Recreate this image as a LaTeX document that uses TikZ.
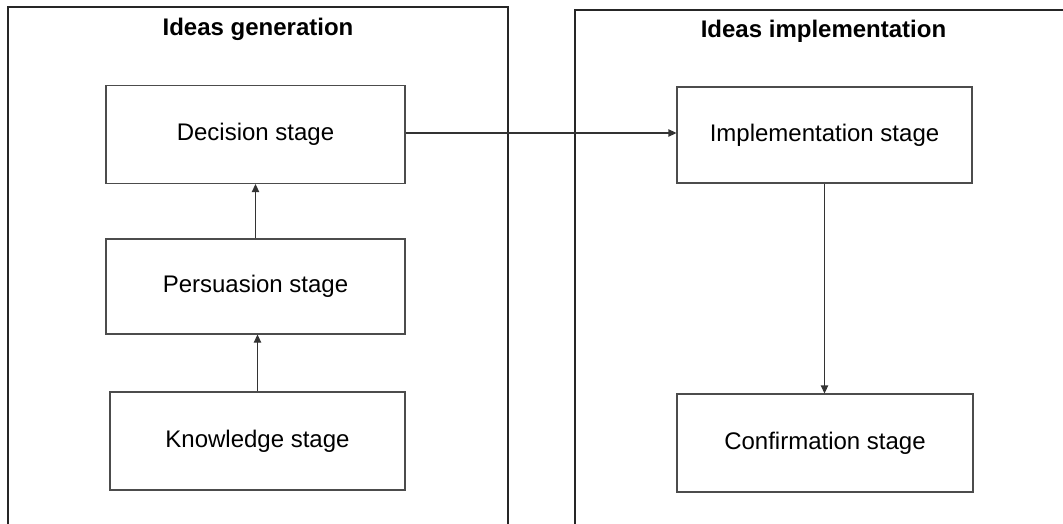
\documentclass[tikz,border=0pt]{standalone}
\usepackage{fontspec}
\setmainfont{Liberation Sans}
\usetikzlibrary{arrows.meta}
\tikzset{
  stagebox/.style={draw=black!70, line width=0.8pt, rectangle, inner sep=0pt,
    font=\fontsize{18}{21}\selectfont},
  titletext/.style={font=\bfseries\fontsize{18}{21}\selectfont, anchor=base, inner sep=0pt},
  outerline/.style={draw=black!85, line width=0.9pt},
  conn/.style={draw=black!80, line width=0.8pt, -{Triangle[length=6pt,width=5.5pt]}}
}
\begin{document}
\begin{tikzpicture}[x=0.75pt,y=-0.75pt]
\useasboundingbox (0,0) rectangle (1063,524);
\clip (0,0) rectangle (1063,524);
% outer panels (bottoms run off the picture)
\draw[outerline] (8,540) -- (8,7) -- (508,7) -- (508,540);
\draw[outerline] (575,540) -- (575,10) -- (1075,10) -- (1075,540);
% titles
\node[titletext] (t1) at (258,36) {Ideas generation};
\node[titletext] (t2) at (823.5,38) {Ideas implementation};
% stage boxes
\node[stagebox, minimum width=299*0.75pt, minimum height=98*0.75pt] (dec) at (255.5,134.5) {Decision stage};
\node[stagebox, minimum width=299*0.75pt, minimum height=95*0.75pt] (per) at (255.5,286.5) {Persuasion stage};
\node[stagebox, minimum width=295*0.75pt, minimum height=98*0.75pt] (kno) at (257.5,441) {Knowledge stage};
\node[stagebox, minimum width=295*0.75pt, minimum height=96*0.75pt] (imp) at (824.5,135) {Implementation stage};
\node[stagebox, minimum width=296*0.75pt, minimum height=98*0.75pt] (con) at (825,443) {Confirmation stage};
% connectors
\draw[conn] (per.north) -- (dec.south);
\draw[conn] (kno.north) -- (kno.north |- per.south);
\draw[conn] (dec.east |- 0,133) -- (imp.west |- 0,133);
\draw[conn] (imp.south) -- (imp.south |- con.north);
\end{tikzpicture}
\end{document}
